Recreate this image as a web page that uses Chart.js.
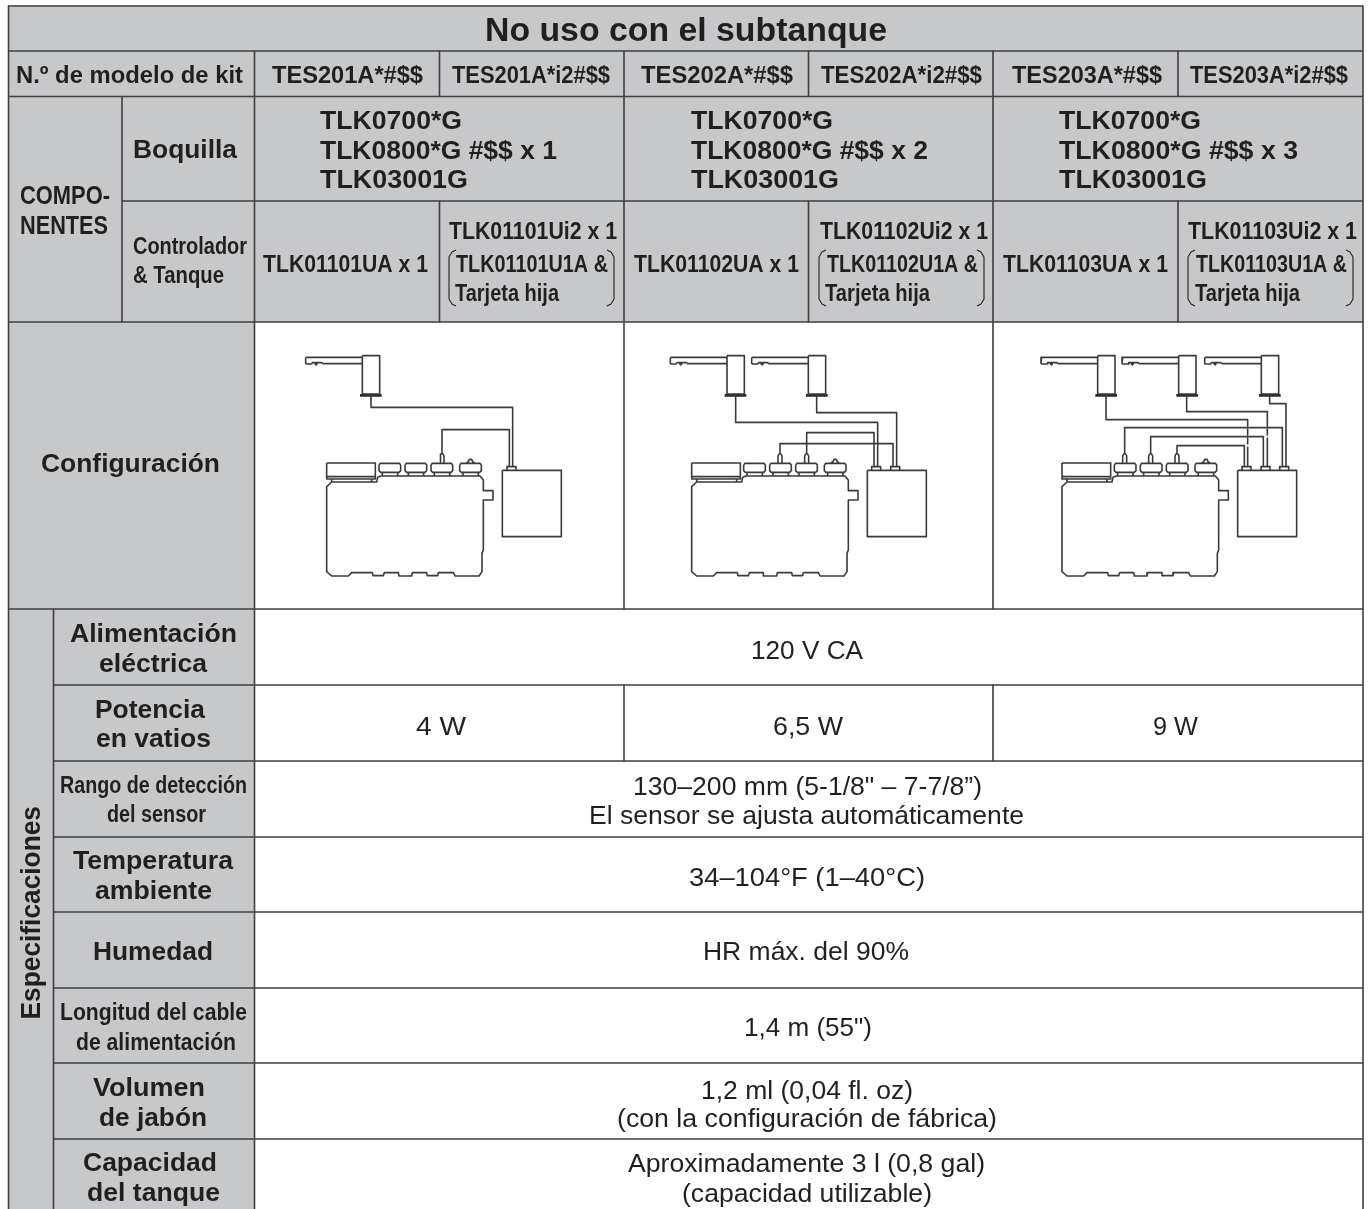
<!DOCTYPE html>
<html><head><meta charset="utf-8">
<style>html,body{margin:0;padding:0;background:#fff}canvas{display:block}</style>
<script src="https://cdn.jsdelivr.net/npm/chart.js@4"></script>
</head><body><canvas id="c" width="1371" height="1209"></canvas>
<script>
// ---- table text ----
const tableTitle = ["No uso con el subtanque"];
const kitHeader = ["N.º de modelo de kit"];
const kitModels = ["TES201A*#$$","TES201A*i2#$$","TES202A*#$$","TES202A*i2#$$","TES203A*#$$","TES203A*i2#$$"];
const groupLabels = ["COMPO-","NENTES"];
const nozzleHeader = ["Boquilla"];
const nozzleKit1 = ["TLK0700*G","TLK0800*G #$$ x 1","TLK03001G"];
const nozzleKit2 = ["TLK0700*G","TLK0800*G #$$ x 2","TLK03001G"];
const nozzleKit3 = ["TLK0700*G","TLK0800*G #$$ x 3","TLK03001G"];
const controllerHeader = ["Controlador","& Tanque"];
const controllerCells = ["TLK01101UA x 1","TLK01101Ui2 x 1","TLK01101U1A &","Tarjeta hija",
  "TLK01102UA x 1","TLK01102Ui2 x 1","TLK01102U1A &","Tarjeta hija",
  "TLK01103UA x 1","TLK01103Ui2 x 1","TLK01103U1A &","Tarjeta hija"];
const configLabel = ["Configuración"];
const specGroup = ["Especificaciones"];
const specLargeLabels = ["Alimentación","eléctrica","Potencia","en vatios","Temperatura","ambiente","Humedad","Volumen","de jabón","Capacidad","del tanque"];
const specNarrowLabels = ["Rango de detección","del sensor","Longitud del cable","de alimentación"];
const specValues = ["120 V CA","4 W","6,5 W","9 W","130–200 mm (5-1/8\" – 7-7/8”)","El sensor se ajusta automáticamente",
  "34–104°F (1–40°C)","HR máx. del 90%","1,4 m (55\")","1,2 ml (0,04 fl. oz)","(con la configuración de fábrica)",
  "Aproximadamente 3 l (0,8 gal)","(capacidad utilizable)"];

// ---- layout: table rules, [from,to,at] in axis units ----
const hRules = [[8,1363,51],[8,1363,96.5],[122,1363,201],[8,1363,322],[8,1363,609],
  [53,1363,685],[53,1363,761],[53,1363,837],[53,1363,912],[53,1363,988],[53,1363,1063],[53,1363,1139]];
const vRules = [[6,1209,8.5],[6,1209,1363],[51,1209,254.5],[96.5,322,122],[609,1209,53.5],
  [51,96.5,439.5],[201,322,439.5],[51,609,624],[685,761,624],[51,609,993],[685,761,993],
  [51,96.5,808.5],[201,322,808.5],[51,96.5,1178],[201,322,1178]];
const topRule = [[8,1363,6]];
const shadedAreas = [[8,1363,6,322],[8,254.5,322,1209]];

// ---- text spots: [left,right,centre-y] ----
const titleSpot=[[485,887,29]];
const kitHeaderSpot=[[16,243,75]];
const kitSpots=[[272,423,75],[452,610,75],[641,793,75],[821,982,75],[1012,1162,75],[1190,1348,75]];
const groupSpots=[[20,110,195],[20,108,225]];
const nozzleHeaderSpot=[[133,237,149]];
const nozzle1Spots=[[320,462,120],[320,557,150],[320,468,179]];
const nozzle2Spots=[[691,833,120],[691,928,150],[691,839,179]];
const nozzle3Spots=[[1059,1201,120],[1059,1298,150],[1059,1207,179]];
const controllerHeaderSpots=[[133,247,246],[133,224,275]];
const controllerSpots=[[263,428,264],[449,617,231],[456,608,264],[455,559,293],
  [634,799,264],[820,988,231],[827,978,264],[825,930,293],
  [1003,1168,264],[1188,1357,231],[1196,1347,264],[1195,1300,293]];
const configSpot=[[41,220,463]];
const specLargeSpots=[[70,237,633],[99,207,663],[95,205,709],[96,211,738],[73,233,860],[95,212,890],[93,213,951],[93,205,1087],[99,207,1117],[83,217,1162],[87,220,1192]];
const specNarrowSpots=[[60,247,785],[107,206,814],[60,247,1012],[76,236,1042]];
const valueSpots=[[751,863,650],[416,466,726],[773,843,726],[1153,1198,726],[633,982,786],[589,1024,815],
  [689,925,877],[703,909,951],[744,872,1027],[701,913,1090],[617,997,1118],[628,985,1163],[682,932,1193]];
const specGroupSpot=[806,1019.5,30];

// ---- installation sketches: outlines in sketch units (3 units = 1 axis unit) ----
const sketchOrigin=[255,330];
const tankOutline=[[350,456],[365,456],[368,442],[378,438],[675,438],[685,450],[685,482],[714,482],[714,510],[685,510],[685,660],[681,670],[681,725],[672,738],[600,738],[595,728],[550,728],[548,737],[517,737],[515,728],[472,728],[470,738],[432,738],[430,728],[388,728],[385,737],[354,737],[352,728],[290,728],[280,738],[230,738],[215,725],[215,470],[230,456],[350,456]];
const lidOutline=[[215,399],[361,399],[361,447],[215,447],[215,399]];
const lidInner=[[215,440],[361,440]];
const trayOutline=[[230,447],[230,456]];
const trayOutline2=[[350,447],[350,456]];
const boxOutline=[[742,421],[919,421],[919,620],[742,620],[742,421]];
const capOutline=[[0,405],[4,400],[61,400],[65,405],[65,422],[60,427],[5,427],[0,422],[0,405]];
const capNeckA=[[10,427],[10,438]];
const capNeckB=[[56,427],[56,438]];
const capBump=[[18,400],[26,395],[29,388],[36,388],[39,395],[47,400]];
const stubOutline=[[-6,399],[-6,378],[-3,372],[3,372],[6,378],[6,399]];
const connectorOutline=[[0,421],[0,410],[27,410],[27,421]];
const spoutOutline=[[322,82],[154,82],[152,85],[152,100],[155,102],[170,102],[172,98],[200,98],[204,101],[322,101]];
const spoutTip=[[178,102],[186,102],[182,106]];
const bodyOutline=[[322,77],[374,77],[374,192],[322,192],[322,77]];
const baseBar=[[315,196],[380,196]];
// per panel: tank shift, spout shifts, cap lefts (in panel-1 sketch units), stub centres, connector lefts
const panelShift=[0,1095,2206];
const spoutShifts=[[0],[1094,1338],[2206,2449,2697]];
const capLefts=[[372,450,528],[1466,1544,1622],[2578,2656,2734]];
const bumpCapLefts=[614,1708,2820];
const stubCentres=[[561],[1575,1655],[2609,2687,2766]];
const connectorLefts=[[756],[1850,1907],[2961,3018,3074]];
const cables=[
 [[348,198],[348,232],[773,232],[773,410]],
 [[561,372],[561,299],[763,299],[763,410]],
 [[1442,198],[1442,277],[1868,277],[1868,410]],
 [[1685,198],[1685,248],[1925,248],[1925,410]],
 [[1655,372],[1655,308],[1857,308],[1857,410]],
 [[1575,372],[1575,341],[1914,341],[1914,410]],
 [[2553,198],[2553,269],[2978,269],[2978,288]],[[2978,298],[2978,315]],[[2978,325],[2978,342]],[[2978,352],[2978,410]],
 [[2795,198],[2795,245],[3037,245],[3037,288]],[[3037,298],[3037,315]],[[3037,325],[3037,410]],
 [[3044,198],[3044,221],[3093,221],[3093,410]],
 [[2609,372],[2609,293],[3082,293],[3082,410]],
 [[2687,372],[2687,320],[3025,320],[3025,410]],
 [[2766,372],[2766,347],[2968,347],[2968,410]]
];
const bracketLeft=[[456,250],[452,252],[449,257],[449,299],[452,304],[456,306]];
const bracketRight=[[607,250],[611,252],[614,257],[614,299],[611,304],[607,306]];
const bracketShifts=[0,370,739];

// ---- colours ----
const SHADE='#c7c8ca', RULE='#3f3f40', INK='#231f20', SKETCH='#3a3a3b';

// ---- build line paths ----
const gap={x:NaN,y:NaN};
function paths(list){const out=[];list.forEach(p=>{p.forEach(q=>out.push({x:q[0],y:q[1]}));out.push(gap);});return out;}
function sk(path,dx,dy){return path.map(p=>[sketchOrigin[0]+(p[0]+dx)/3,sketchOrigin[1]+(p[1]+(dy||0))/3]);}
const sketchPaths=[];
panelShift.forEach((s,i)=>{
  [tankOutline,lidOutline,lidInner,trayOutline,trayOutline2,boxOutline].forEach(o=>sketchPaths.push(sk(o,s)));
  capLefts[i].concat([bumpCapLefts[i]]).forEach(l=>{
    [capOutline,capNeckA,capNeckB].forEach(o=>sketchPaths.push(sk(o,l)));
  });
  sketchPaths.push(sk(capBump,bumpCapLefts[i]));
  stubCentres[i].forEach(c=>sketchPaths.push(sk(stubOutline,c)));
  connectorLefts[i].forEach(c=>sketchPaths.push(sk(connectorOutline,c)));
  spoutShifts[i].forEach(d=>{[spoutOutline,spoutTip,bodyOutline].forEach(o=>sketchPaths.push(sk(o,d)));});
});
cables.forEach(c=>sketchPaths.push(sk(c,0)));
const basePaths=[];
spoutShifts.forEach(l=>l.forEach(d=>basePaths.push(sk(baseBar,d))));
const bracketPaths=[];
bracketShifts.forEach(d=>{[bracketLeft,bracketRight].forEach(b=>bracketPaths.push(b.map(p=>[p[0]+d,p[1]])));});

const hPaths=hRules.map(r=>[[r[0],r[2]],[r[1],r[2]]]);
const vPaths=vRules.map(r=>[[r[2],r[0]],[r[2],r[1]]]);
const topPaths=topRule.map(r=>[[r[0],r[2]],[r[1],r[2]]]);

const lineDs=(data,color,w,order)=>({type:'line',data,borderColor:color,borderWidth:w,pointRadius:0,fill:false,tension:0,spanGaps:false,order,borderJoinStyle:'round'});
const datasets=[];
shadedAreas.forEach(a=>datasets.push({type:'line',data:[{x:a[0],y:a[2]},{x:a[1],y:a[2]}],borderWidth:0,borderColor:'transparent',backgroundColor:SHADE,pointRadius:0,order:10,fill:{target:{value:a[3]},above:SHADE,below:SHADE}}));
datasets.push(lineDs(paths(hPaths),RULE,1.6,5));
datasets.push(lineDs(paths(vPaths),RULE,1.6,5));
datasets.push(lineDs(paths(topPaths),'#666667',2,5));
datasets.push(lineDs(paths(sketchPaths),SKETCH,1.6,3));
datasets.push(lineDs(paths(basePaths),'#2a2a2b',2.6,3));
datasets.push(lineDs(paths(bracketPaths),INK,1.1,3));

// ---- text ----
const BOLD='bold', NORMAL='normal';
const textGroups=[
 [tableTitle,titleSpot,34,BOLD],[kitHeader,kitHeaderSpot,24,BOLD],[kitModels,kitSpots,24,BOLD],
 [groupLabels,groupSpots,25,BOLD],[nozzleHeader,nozzleHeaderSpot,26,BOLD],
 [nozzleKit1,nozzle1Spots,25.5,BOLD],[nozzleKit2,nozzle2Spots,25.5,BOLD],[nozzleKit3,nozzle3Spots,25.5,BOLD],
 [controllerHeader,controllerHeaderSpots,24.5,BOLD],[controllerCells,controllerSpots,24.5,BOLD],
 [configLabel,configSpot,26,BOLD],[specLargeLabels,specLargeSpots,26,BOLD],[specNarrowLabels,specNarrowSpots,23.5,BOLD],
 [specValues,valueSpots,26.5,NORMAL]
];
const FAMILY='"Liberation Sans", Arial, sans-serif';
const BASE_SHIFT=0.34;
const tablePlugin={id:'tableText',afterDraw(chart){
  const {ctx,scales:{x,y}}=chart;
  ctx.save();ctx.fillStyle=INK;ctx.textAlign='left';ctx.textBaseline='alphabetic';
  textGroups.forEach(([strs,spots,size,weight])=>{
    ctx.font=weight+' '+size+'px '+FAMILY;
    strs.forEach((s,i)=>{
      const sp=spots[i],m=ctx.measureText(s).width;
      const px0=x.getPixelForValue(sp[0]),px1=x.getPixelForValue(sp[1]),py=y.getPixelForValue(sp[2]);
      ctx.save();ctx.translate(px0,py+size*BASE_SHIFT);ctx.scale((px1-px0)/m,1);ctx.fillText(s,0,0);ctx.restore();
    });
  });
  // rotated column label
  const size=27;ctx.font=BOLD+' '+size+'px '+FAMILY;
  const s=specGroup[0],m=ctx.measureText(s).width;
  ctx.save();ctx.translate(x.getPixelForValue(specGroupSpot[2]+size*0.36),y.getPixelForValue(specGroupSpot[1]));
  ctx.rotate(-Math.PI/2);ctx.scale((specGroupSpot[1]-specGroupSpot[0])/m,1);ctx.fillText(s,0,0);ctx.restore();
  ctx.restore();
}};

new Chart(document.getElementById('c'),{
  data:{datasets},
  plugins:[tablePlugin],
  options:{responsive:false,animation:false,layout:{padding:0},
    plugins:{legend:{display:false},tooltip:{enabled:false},title:{display:false}},
    events:[],
    scales:{x:{type:'linear',min:0,max:1371,display:false},y:{type:'linear',min:0,max:1209,reverse:true,display:false}}}
});
</script></body></html>
